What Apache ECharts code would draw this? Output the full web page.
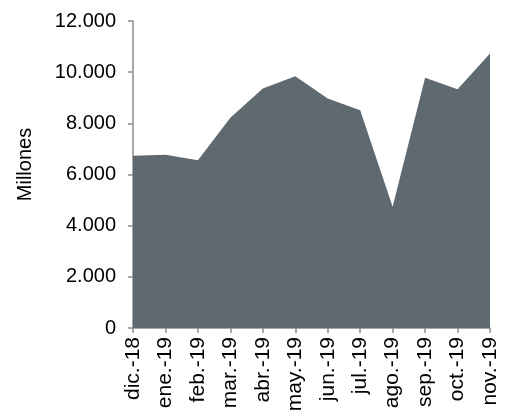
<!DOCTYPE html>
<html>
<head>
<meta charset="utf-8">
<script src="https://cdn.jsdelivr.net/npm/echarts@6/dist/echarts.min.js"></script>
<style>
  html, body { margin: 0; padding: 0; background: #fff; }
  #main { width: 507px; height: 418px; }
</style>
</head>
<body>
<div id="main"></div>
<script>
var months = ["dic.-18", "ene.-19", "feb.-19", "mar.-19", "abr.-19", "may.-19",
  "jun.-19", "jul.-19", "ago.-19", "sep.-19", "oct.-19", "nov.-19"];
var millones = [6730, 6770, 6560, 8220, 9360, 9840, 8970, 8510, 4740, 9780, 9330, 10730];
var yTicks = [0, 2000, 4000, 6000, 8000, 10000, 12000];

// separador de miles con punto
function fmt(v) {
  return String(v).replace(/\B(?=(\d{3})+(?!\d))/g, ".");
}

var chart = echarts.init(document.getElementById("main"));
var option = {
  animation: false,
  textStyle: { fontFamily: "Liberation Sans, Arial, sans-serif" },
  grid: { left: 133, right: 17, top: 21, bottom: 90 },
  xAxis: {
    type: "category",
    data: months,
    boundaryGap: false,
    axisLine: { lineStyle: { color: "#8c8c8c", width: 1.5 } },
    axisTick: { alignWithLabel: true, length: 5, lineStyle: { color: "#8c8c8c", width: 1.5 } },
    axisLabel: { rotate: 90, margin: 9, color: "#000", fontSize: 21, interval: 0 }
  },
  yAxis: {
    type: "value",
    min: yTicks[0],
    max: yTicks[yTicks.length - 1],
    interval: 2000,
    name: "Millones",
    nameLocation: "middle",
    nameGap: 98,
    nameRotate: 90,
    nameTextStyle: { color: "#000", fontSize: 20, padding: [0, 0, 0, 20] },
    axisLine: { show: true, lineStyle: { color: "#8c8c8c", width: 1.5 } },
    axisTick: { show: true, length: 5, lineStyle: { color: "#8c8c8c", width: 1.5 } },
    splitLine: { show: false },
    axisLabel: {
      color: "#000",
      fontSize: 20,
      margin: 17,
      formatter: function (v) { return fmt(v); }
    }
  },
  series: [{
    type: "line",
    data: millones,
    symbol: "none",
    lineStyle: { width: 0 },
    areaStyle: { color: "#5e6970", opacity: 1 }
  }]
};
chart.setOption(option);
</script>
</body>
</html>
